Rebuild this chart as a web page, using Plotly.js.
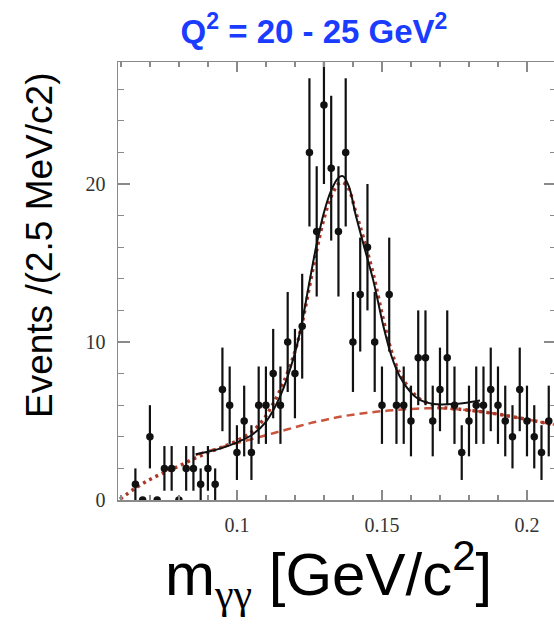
<!DOCTYPE html>
<html><head><meta charset="utf-8">
<script src="https://cdn.plot.ly/plotly-3.0.1.min.js"></script>
<style>html,body{margin:0;padding:0;overflow:hidden;background:#fff}#wrap{width:554px;height:633px;overflow:hidden}#plot{width:558px;height:633px}</style>
</head><body><div id="wrap"><div id="plot"></div></div>
<script>
// Histogram bin centres (GeV/c^2) and event counts
const massBins = [0.065,0.0675,0.07,0.0725,0.075,0.0775,0.08,0.0825,0.085,0.0875,0.09,0.0925,0.095,0.0975,0.1,0.1025,0.105,0.1075,0.11,0.1125,0.115,0.1175,0.12,0.1225,0.125,0.1275,0.13,0.1325,0.135,0.1375,0.14,0.1425,0.145,0.1475,0.15,0.1525,0.155,0.1575,0.16,0.1625,0.165,0.1675,0.17,0.1725,0.175,0.1775,0.18,0.1825,0.185,0.1875,0.19,0.1925,0.195,0.1975,0.2,0.2025,0.205,0.2075];
const counts   = [1,0,4,0,2,2,0,2,2,1,2,1,7,6,3,5,3,6,6,8,6,10,8,11,22,17,25,21,17,22,10,13,16,10,6,13,6,6,5,9,9,5,7,9,6,3,5,6,6,7,6,5,4,7,5,4,3,5];

// Total fit (solid black)
const fitX = [0.0858,0.09,0.095,0.1,0.105,0.11,0.115,0.12,0.1225,0.125,0.1275,0.13,0.1325,0.135,0.1365,0.1385,0.141,0.1436,0.147,0.1505,0.1533,0.1562,0.1597,0.1631,0.1677,0.1746,0.1792,0.1838];
const fitY = [2.9,3.05,3.3,3.65,4.1,4.95,6.6,9.3,11.3,13.8,16.2,18.2,19.6,20.4,20.5,19.9,18.0,16.2,13.9,11.0,9.1,7.8,6.86,6.33,6.08,6.07,6.16,6.29];

// Full-range model (red dotted)
const modelX = [0.0597,0.065,0.07,0.075,0.08,0.085,0.09,0.095,0.1,0.105,0.109,0.1125,0.116,0.12,0.1225,0.125,0.1275,0.13,0.1325,0.135,0.1365,0.1385,0.141,0.1436,0.147,0.1505,0.1533,0.1562,0.1597,0.163,0.1677,0.1711,0.175,0.18,0.185,0.19,0.195,0.2,0.205,0.21];
const modelY = [0.05,0.75,1.3,1.75,2.15,2.6,3.0,3.35,3.75,4.3,5.06,6.1,7.4,9.4,11.2,13.5,15.8,17.8,19.2,20.0,20.1,19.7,18.2,16.6,14.3,11.4,9.4,8.0,7.0,6.4,6.0,5.85,5.78,5.68,5.57,5.43,5.27,5.1,4.92,4.75];

// Background component (red dashed)
const bkgX = [0.0858,0.09,0.095,0.1,0.105,0.11,0.115,0.12,0.125,0.13,0.135,0.14,0.145,0.15,0.155,0.16,0.165,0.17,0.175,0.18,0.185,0.19,0.195,0.2,0.205,0.21];
const bkgY = [2.85,3.1,3.35,3.6,3.85,4.1,4.35,4.6,4.85,5.05,5.25,5.4,5.52,5.62,5.7,5.76,5.8,5.8,5.76,5.68,5.57,5.43,5.27,5.1,4.92,4.75];

const xTickVals = [0.1,0.15,0.2];
const xTickText = ['0.1','0.15','0.2'];
const yTickVals = [0,10,20];
const yTickText = ['0','10','20'];

const frame = '#8a8a8a';
const traces = [
  {x: bkgX, y: bkgY, mode:'lines', line:{color:'#c9553f', width:2.5, dash:'8px,5px', shape:'spline'}, hoverinfo:'skip'},
  {x: modelX, y: modelY, mode:'lines', line:{color:'#a8392a', width:3.5, dash:'3px,4px', shape:'spline'}, hoverinfo:'skip'},
  {x: fitX, y: fitY, mode:'lines', line:{color:'#111', width:2, shape:'spline'}, hoverinfo:'skip'},
  {x: massBins, y: counts, mode:'markers', marker:{color:'#111', size:7.5},
   error_y:{type:'data', array: counts.map(c => Math.sqrt(c)), visible:true, color:'#111', thickness:2.2, width:0}}
];

const layout = {
  width: 558, height: 633,
  margin: {l:118, r:2, t:62, b:133},
  paper_bgcolor:'#fff', plot_bgcolor:'#fff',
  showlegend:false,
  title: {text:'<b>Q<sup>2</sup> = 20 - 25 GeV<sup>2</sup></b>', font:{family:'Liberation Sans, Arial', size:33, color:'#1a3cff'},
          x: 314/558, xanchor:'center', xref:'container', y: 1-31/633, yanchor:'middle', yref:'container'},
  xaxis: {range:[0.059,0.21], showline:true, linecolor:frame, linewidth:1.5, mirror:'ticks',
          ticks:'inside', ticklen:10, tickcolor:frame, tickwidth:1.2,
          tickmode:'array', tickvals:xTickVals, ticktext:xTickText,
          tickfont:{family:'Liberation Serif, Times New Roman', size:20, color:'#333'},
          ticklabelstandoff: 6,
          minor:{tickmode:'linear', tick0:0, dtick:0.01, ticks:'inside', ticklen:5, tickcolor:frame, showgrid:false},
          showgrid:false, zeroline:false},
  yaxis: {range:[0,27.72], showline:true, linecolor:frame, linewidth:1.5, mirror:'ticks',
          ticks:'inside', ticklen:12, tickcolor:frame, tickwidth:1.2,
          tickmode:'array', tickvals:yTickVals, ticktext:yTickText,
          tickfont:{family:'Liberation Serif, Times New Roman', size:20, color:'#333'},
          ticklabelstandoff: 7,
          minor:{tickmode:'linear', tick0:0, dtick:2, ticks:'inside', ticklen:6, tickcolor:frame, showgrid:false},
          showgrid:false, zeroline:false},
  annotations: [
    {text:'Events /(2.5 MeV/c2)', textangle:-90, xref:'paper', yref:'paper', x:(39-118)/438, y:(500-246)/438,
     xanchor:'center', yanchor:'middle', showarrow:false, font:{family:'Liberation Sans, Arial', size:37, color:'#000'}},
    {text:'m<sub><span style="font-family:Liberation Serif">γγ</span></sub> [GeV/c<sup>2</sup>]', xref:'paper', yref:'paper', x:(328-118)/438, y:(500-574)/438,
     xanchor:'center', yanchor:'middle', showarrow:false, font:{family:'Liberation Sans, Arial', size:60, color:'#000'}}
  ]
};
Plotly.newPlot('plot', traces, layout, {displayModeBar:false, staticPlot:true});
</script></body></html>
